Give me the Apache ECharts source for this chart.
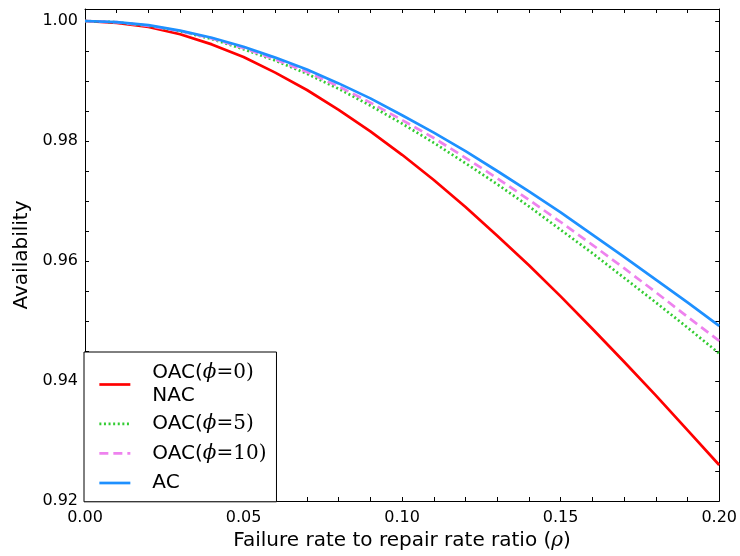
<!DOCTYPE html>
<html>
<head>
<meta charset="utf-8">
<script src="https://cdn.jsdelivr.net/npm/echarts@6/dist/echarts.min.js"></script>
<style>
  html, body { margin: 0; padding: 0; background: #fff; }
  #chart { width: 740px; height: 556px; }
</style>
</head>
<body>
<div id="chart"></div>
<script>
// data
const rhoValues = [0.00, 0.01, 0.02, 0.03, 0.04, 0.05, 0.06, 0.07, 0.08, 0.09, 0.10,
                   0.11, 0.12, 0.13, 0.14, 0.15, 0.16, 0.17, 0.18, 0.19, 0.20];
const nacAvail   = [1.0000, 0.9997, 0.9990, 0.9978, 0.9961, 0.9940, 0.9914, 0.9885, 0.9852, 0.9816, 0.9777,
                    0.9735, 0.9690, 0.9642, 0.9593, 0.9541, 0.9487, 0.9432, 0.9376, 0.9318, 0.9260];
const oac5Avail  = [1.0000, 0.9998, 0.9992, 0.9983, 0.9970, 0.9953, 0.9934, 0.9912, 0.9887, 0.9859, 0.9829,
                    0.9797, 0.9763, 0.9728, 0.9691, 0.9652, 0.9613, 0.9572, 0.9531, 0.9489, 0.9446];
const oac10Avail = [1.0000, 0.9998, 0.9992, 0.9983, 0.9971, 0.9955, 0.9936, 0.9915, 0.9891, 0.9864, 0.9835,
                    0.9805, 0.9772, 0.9738, 0.9702, 0.9665, 0.9627, 0.9588, 0.9548, 0.9507, 0.9467];
const acAvail    = [1.0000, 0.9998, 0.9993, 0.9984, 0.9972, 0.9957, 0.9939, 0.9919, 0.9896, 0.9871, 0.9843,
                    0.9814, 0.9783, 0.9750, 0.9716, 0.9681, 0.9644, 0.9607, 0.9569, 0.9531, 0.9492];

const xLabelStep = 0.05;
const yLabelStep = 0.02;

const chart = echarts.init(document.getElementById('chart'));

const pairs = (ys) => rhoValues.map((x, i) => [x, ys[i]]);
const onStep = (v, step) => Math.abs(v / step - Math.round(v / step)) < 1e-6;

const baseFont = 'DejaVu Sans';
const mathFont = 'DejaVu Serif';

// common look of the box axes (ticks pointing inward)
const boxAxis = {
  axisLine: { show: true, onZero: false, lineStyle: { color: '#000', width: 1 } },
  axisTick: { show: true, inside: true, length: 4, lineStyle: { color: '#000' } },
  splitLine: { show: false }
};

const legendNames = {
  nac:   '{t|OAC(}{m|ϕ}{s|=0)}\n{t|NAC}',
  oac5:  '{t|OAC(}{m|ϕ}{s|=5)}',
  oac10: '{t|OAC(}{m|ϕ}{s|=10)}',
  ac:    '{t|AC}'
};

const option = {
  animation: false,
  backgroundColor: '#fff',
  grid: { left: 85, right: 19, top: 9, bottom: 55, containLabel: false },
  xAxis: [
    Object.assign({}, boxAxis, {
      type: 'value', min: 0, max: 0.2, interval: 0.01, position: 'bottom',
      axisLabel: {
        margin: 9, fontSize: 16, fontFamily: baseFont, color: '#000',
        formatter: v => onStep(v, xLabelStep) ? v.toFixed(2) : ''
      },
      name: 'Failure rate to repair rate ratio ({i|ρ})',
      nameLocation: 'middle', nameGap: 27,
      nameTextStyle: {
        fontSize: 20, fontFamily: baseFont, color: '#000',
        rich: { i: { fontSize: 20, fontFamily: mathFont, fontStyle: 'italic', color: '#000' } }
      }
    }),
    Object.assign({}, boxAxis, {
      type: 'value', min: 0, max: 0.2, interval: 0.01, position: 'top',
      axisLabel: { show: false }
    })
  ],
  yAxis: [
    Object.assign({}, boxAxis, {
      type: 'value', min: 0.92, max: 1.002, interval: 0.005, position: 'left',
      axisLabel: {
        margin: 7, fontSize: 16, fontFamily: baseFont, color: '#000',
        formatter: v => (onStep(v, yLabelStep) && v <= 1.0000001) ? v.toFixed(2) : ''
      },
      name: 'Availability',
      nameLocation: 'middle', nameGap: 51, nameRotate: 90,
      nameTextStyle: { fontSize: 20, fontFamily: baseFont, color: '#000' }
    }),
    Object.assign({}, boxAxis, {
      type: 'value', min: 0.92, max: 1.002, interval: 0.005, position: 'right',
      axisLabel: { show: false }
    })
  ],
  legend: {
    orient: 'vertical',
    left: 84, top: 352,
    padding: [11, 10, 7, 14],
    itemGap: 6,
    itemWidth: 31, itemHeight: 29.5,
    itemStyle: { opacity: 0 },
    lineStyle: { width: 2.7 },
    backgroundColor: '#fff',
    borderColor: '#000', borderWidth: 1, borderRadius: 0,
    data: [
      { name: 'nac', textStyle: { padding: [-3, 0, -3, 17] } },
      { name: 'oac5' }, { name: 'oac10' }, { name: 'ac' }
    ],
    formatter: name => legendNames[name],
    textStyle: {
      padding: [0, 0, 0, 17],
      rich: {
        t: { fontSize: 20, fontFamily: baseFont, color: '#000', lineHeight: 23 },
        m: { fontSize: 20, fontFamily: mathFont, fontStyle: 'italic', color: '#000', lineHeight: 23 },
        s: { fontSize: 20, fontFamily: mathFont, color: '#000', lineHeight: 23 }
      }
    }
  },
  series: [
    { name: 'nac', type: 'line', data: pairs(nacAvail), symbol: 'none',
      lineStyle: { color: '#ff0000', width: 2.7 }, itemStyle: { color: '#ff0000' } },
    { name: 'oac5', type: 'line', data: pairs(oac5Avail), symbol: 'none',
      lineStyle: { color: '#33cc33', width: 2.7, type: [2, 2.6] }, itemStyle: { color: '#33cc33' } },
    { name: 'oac10', type: 'line', data: pairs(oac10Avail), symbol: 'none',
      lineStyle: { color: '#ee82ee', width: 2.7, type: [9, 5] }, itemStyle: { color: '#ee82ee' } },
    { name: 'ac', type: 'line', data: pairs(acAvail), symbol: 'none',
      lineStyle: { color: '#1e90ff', width: 2.7 }, itemStyle: { color: '#1e90ff' } }
  ]
};

chart.setOption(option);
</script>
</body>
</html>
